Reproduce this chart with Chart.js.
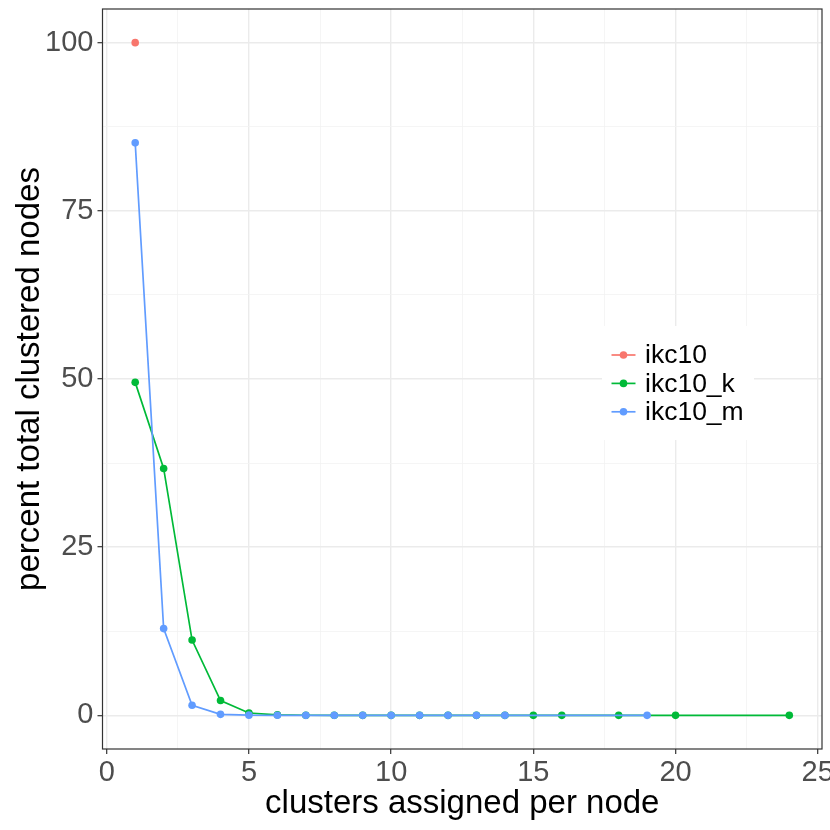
<!DOCTYPE html>
<html>
<head>
<meta charset="utf-8">
<script src="https://cdn.jsdelivr.net/npm/chart.js@4"></script>
<style>
  html, body { margin: 0; padding: 0; background: #fff; }
  #wrap { width: 830px; height: 830px; }
</style>
</head>
<body>
<div id="wrap"><canvas id="myChart"></canvas></div>
<script>
// data
const ikc10X = [1];
const ikc10Y = [100];
const ikc10kX = [1, 2, 3, 4, 5, 6, 7, 8, 9, 10, 11, 12, 13, 14, 15, 16, 18, 20, 24];
const ikc10kY = [49.5, 36.7, 11.2, 2.2, 0.35, 0.08, 0.02, 0.01, 0, 0, 0, 0, 0, 0, 0, 0, 0, 0, 0];
const ikc10mX = [1, 2, 3, 4, 5, 6, 7, 8, 9, 10, 11, 12, 13, 14, 19];
const ikc10mY = [85.1, 12.9, 1.5, 0.15, 0.03, 0.01, 0, 0, 0, 0, 0, 0, 0, 0, 0];
const seriesNames = ["ikc10", "ikc10_k", "ikc10_m"];
const seriesColors = ["#F8766D", "#00BA38", "#619CFF"];
const xTickLabels = [0, 5, 10, 15, 20, 25];
const yTickLabels = [0, 25, 50, 75, 100];

const FONT = "'Liberation Sans', Arial, sans-serif";
const toPts = (xs, ys) => xs.map((x, i) => ({ x: x, y: ys[i] }));
const allX = [ikc10X, ikc10kX, ikc10mX];
const allY = [ikc10Y, ikc10kY, ikc10mY];

const datasets = seriesNames.map((name, i) => ({
  label: name,
  data: toPts(allX[i], allY[i]),
  borderColor: seriesColors[i],
  backgroundColor: seriesColors[i],
  borderWidth: 1.7,
  pointRadius: 3.8,
  pointHoverRadius: 3.8,
  pointBorderWidth: 0,
  tension: 0,
  order: seriesNames.length - i,
}));

// panel border + legend inside the plot
const panelPlugin = {
  id: "panel",
  afterDraw(chart) {
    const c = chart.ctx;
    const a = chart.chartArea;
    c.save();
    c.strokeStyle = "#333333";
    c.lineWidth = 1.2;
    c.strokeRect(a.left, a.top, a.right - a.left, a.bottom - a.top);

    // legend
    c.fillStyle = "#ffffff";
    c.fillRect(602, 326, 152, 114);
    c.font = "26.5px " + FONT;
    c.textBaseline = "middle";
    seriesNames.forEach((name, i) => {
      const y = 355 + i * 28.4;
      c.strokeStyle = seriesColors[i];
      c.lineWidth = 1.7;
      c.beginPath();
      c.moveTo(611.5, y);
      c.lineTo(635.5, y);
      c.stroke();
      c.fillStyle = seriesColors[i];
      c.beginPath();
      c.arc(623.5, y, 3.8, 0, Math.PI * 2);
      c.fill();
      c.fillStyle = "#000000";
      c.fillText(name, 645, y + 1);
    });
    c.restore();
  },
};

const isMajorX = (v) => xTickLabels.includes(v);
const isMajorY = (v) => yTickLabels.includes(v);

new Chart(document.getElementById("myChart"), {
  type: "line",
  data: { datasets: datasets },
  options: {
    responsive: true,
    maintainAspectRatio: false,
    animation: false,
    layout: { padding: { top: 9, right: 8, bottom: 0, left: 0 } },
    plugins: {
      legend: { display: false },
      tooltip: { enabled: false },
    },
    scales: {
      x: {
        type: "linear",
        min: -0.15,
        max: 25.15,
        border: { display: false },
        afterFit: (scale) => {
          scale.height = 81;
          scale.paddingLeft = 0;
          scale.paddingRight = 0;
        },
        grid: {
          color: (ctx) => (isMajorX(ctx.tick.value) ? "#EBEBEB" : "#F2F2F2"),
          lineWidth: (ctx) => (isMajorX(ctx.tick.value) ? 1.4 : 0.8),
          tickColor: (ctx) => (isMajorX(ctx.tick.value) ? "#333333" : "rgba(0,0,0,0)"),
          tickLength: 5,
          tickWidth: 1.2,
        },
        ticks: {
          stepSize: 2.5,
          includeBounds: false,
          autoSkip: false,
          maxRotation: 0,
          color: "#4D4D4D",
          font: { family: FONT, size: 29 },
          padding: 2,
          callback: (v) => (isMajorX(v) ? String(v) : ""),
        },
        title: {
          display: true,
          text: "clusters assigned per node",
          color: "#000000",
          font: { family: FONT, size: 33 },
          padding: { top: 0, bottom: 6 },
        },
      },
      y: {
        type: "linear",
        min: -5,
        max: 105,
        border: { display: false },
        afterFit: (scale) => {
          scale.width = 102.5;
          scale.paddingTop = 0;
          scale.paddingBottom = 0;
        },
        grid: {
          color: (ctx) => (isMajorY(ctx.tick.value) ? "#EBEBEB" : "#F2F2F2"),
          lineWidth: (ctx) => (isMajorY(ctx.tick.value) ? 1.4 : 0.8),
          tickColor: (ctx) => (isMajorY(ctx.tick.value) ? "#333333" : "rgba(0,0,0,0)"),
          tickLength: 5,
          tickWidth: 1.2,
        },
        ticks: {
          stepSize: 12.5,
          includeBounds: false,
          autoSkip: false,
          color: "#4D4D4D",
          font: { family: FONT, size: 29 },
          padding: 4,
          callback: (v) => (isMajorY(v) ? String(v) : ""),
        },
        title: {
          display: true,
          text: "percent total clustered nodes",
          color: "#000000",
          font: { family: FONT, size: 33 },
          padding: { top: 10, bottom: 0 },
        },
      },
    },
  },
  plugins: [panelPlugin],
});
</script>
</body>
</html>
